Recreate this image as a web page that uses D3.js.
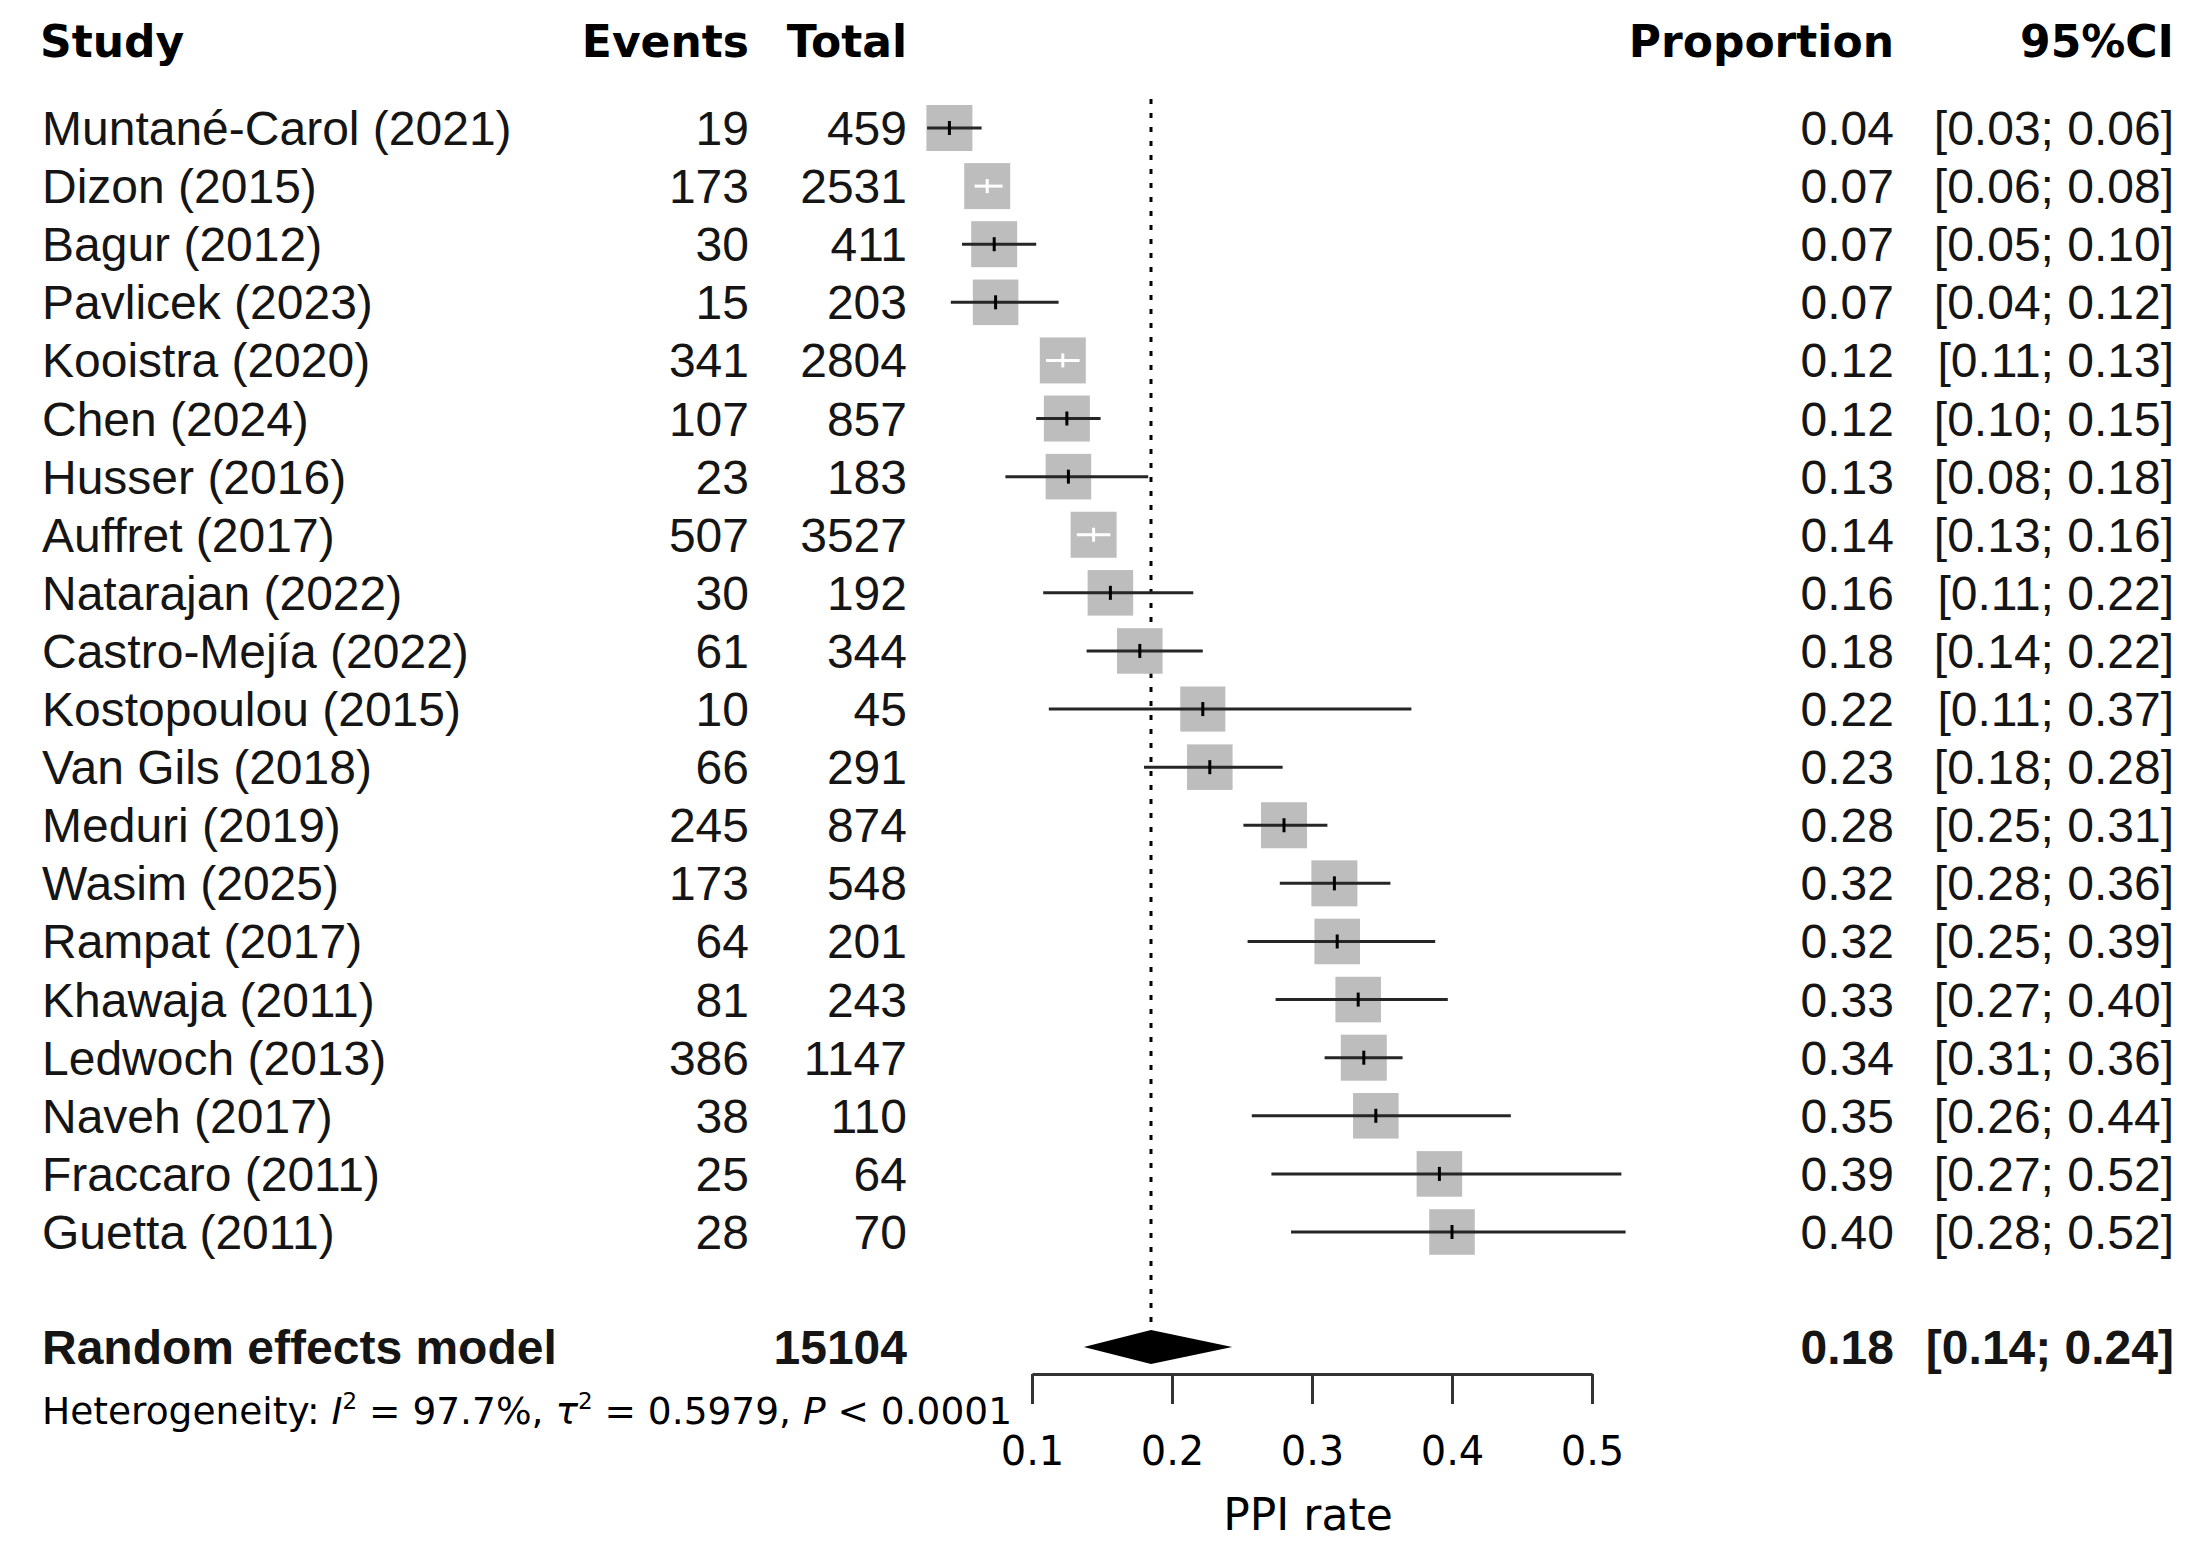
<!DOCTYPE html>
<html>
<head>
<meta charset="utf-8">
<script src="https://cdn.jsdelivr.net/npm/d3@7"></script>
<style>
  body { margin: 0; background: #fff; }
</style>
</head>
<body>
<div id="forest"></div>
<script>
// Study rows (top to bottom)
const studies = ["Muntané-Carol (2021)", "Dizon (2015)", "Bagur (2012)", "Pavlicek (2023)",
    "Kooistra (2020)", "Chen (2024)", "Husser (2016)", "Auffret (2017)", "Natarajan (2022)",
    "Castro-Mejía (2022)", "Kostopoulou (2015)", "Van Gils (2018)", "Meduri (2019)",
    "Wasim (2025)", "Rampat (2017)", "Khawaja (2011)", "Ledwoch (2013)", "Naveh (2017)",
    "Fraccaro (2011)", "Guetta (2011)"];
const events = [19, 173, 30, 15, 341, 107, 23, 507, 30, 61, 10, 66, 245, 173, 64, 81, 386, 38, 25, 28];
const totals = [459, 2531, 411, 203, 2804, 857, 183, 3527, 192, 344, 45, 291, 874, 548, 201, 243, 1147, 110, 64, 70];
const proportions = [0.041, 0.068, 0.073, 0.074, 0.122, 0.1249, 0.126, 0.144, 0.156, 0.177,
    0.222, 0.227, 0.280, 0.316, 0.318, 0.333, 0.337, 0.3456, 0.391, 0.400];
const ciLower = [0.0251, 0.059, 0.050, 0.042, 0.110, 0.103, 0.081, 0.132, 0.108, 0.139,
    0.112, 0.180, 0.251, 0.277, 0.254, 0.274, 0.309, 0.257, 0.271, 0.285];
const ciUpper = [0.064, 0.079, 0.103, 0.119, 0.134, 0.149, 0.183, 0.156, 0.2152, 0.222,
    0.371, 0.279, 0.311, 0.356, 0.388, 0.397, 0.3647, 0.442, 0.521, 0.524];
const weights = [5.1, 5.1, 5.1, 5.0, 5.1, 5.1, 5.0, 5.1, 5.0, 5.0, 4.9, 5.0, 5.1, 5.1, 5.0, 5.0, 5.1, 5.0, 5.0, 5.0];

// Random effects model
const pooledTotal = 15104;
const pooled = 0.185, pooledLower = 0.137, pooledUpper = 0.243;
const heterogeneity = { i2: "97.7%", tau2: "0.5979", p: "0.0001" };

const tickValues = [0.1, 0.2, 0.3, 0.4, 0.5];
const axisTitle = "PPI rate";

const width = 2205, height = 1554;
const svg = d3.select("#forest")
    .append("svg")
    .attr("width", width)
    .attr("height", height)
    .attr("viewBox", "0 0 " + width + " " + height);

const rowFont = "'Liberation Sans', Arial, sans-serif";
const headFont = "'DejaVu Sans', Verdana, sans-serif";

const x = d3.scaleLinear().domain([0.1, 0.5]).range([1032, 1592]);
const y = d3.scaleLinear().domain([0, studies.length - 1]).range([128, 1232]);
const sideMax = 46;
const side = (w) => sideMax * Math.sqrt(w / d3.max(weights));

const data = studies.map((s, i) => ({
    study: s, events: events[i], total: totals[i], p: proportions[i],
    lo: ciLower[i], hi: ciUpper[i], w: weights[i], i: i
}));

// Column headers
const header = svg.append("g")
    .style("font-family", headFont)
    .style("font-weight", "bold")
    .style("font-size", "44px")
    .attr("fill", "#000");
header.append("text").attr("x", 40).attr("y", 57).text("Study");
header.append("text").attr("x", 749).attr("y", 57).attr("text-anchor", "end").text("Events");
header.append("text").attr("x", 907).attr("y", 57).attr("text-anchor", "end").text("Total");
header.append("text").attr("x", 1894).attr("y", 57).attr("text-anchor", "end").text("Proportion");
header.append("text").attr("x", 2174).attr("y", 57).attr("text-anchor", "end").text("95%CI");

// Reference line at the pooled estimate
svg.append("line")
    .attr("x1", x(pooled)).attr("x2", x(pooled))
    .attr("y1", 99).attr("y2", 1330)
    .style("stroke", "#000")
    .style("stroke-width", 3)
    .style("stroke-dasharray", "5,9");

// Study text columns
const rows = svg.append("g")
    .style("font-family", rowFont)
    .style("font-size", "48px")
    .attr("fill", "#151515");

const rowText = rows.selectAll("g")
    .data(data)
    .enter()
    .append("g")
    .attr("transform", (d) => "translate(0," + (y(d.i) + 17) + ")");
rowText.append("text").attr("x", 42).text((d) => d.study);
rowText.append("text").attr("x", 749).attr("text-anchor", "end").text((d) => d.events);
rowText.append("text").attr("x", 907).attr("text-anchor", "end").text((d) => d.total);
rowText.append("text").attr("x", 1894).attr("text-anchor", "end").text((d) => d.p.toFixed(2));
rowText.append("text").attr("x", 2174).attr("text-anchor", "end")
    .text((d) => "[" + d.lo.toFixed(2) + "; " + d.hi.toFixed(2) + "]");

// Squares and confidence intervals
const marks = svg.append("g");
const inside = (d) => x(d.lo) >= x(d.p) - side(d.w) / 2 && x(d.hi) <= x(d.p) + side(d.w) / 2;

marks.selectAll("rect")
    .data(data)
    .enter()
    .append("rect")
    .attr("x", (d) => x(d.p) - side(d.w) / 2)
    .attr("y", (d) => y(d.i) - side(d.w) / 2)
    .attr("width", (d) => side(d.w))
    .attr("height", (d) => side(d.w))
    .style("fill", "#bdbdbd");

marks.selectAll("line.ci")
    .data(data)
    .enter()
    .append("line")
    .attr("class", "ci")
    .attr("x1", (d) => x(d.lo))
    .attr("x2", (d) => x(d.hi))
    .attr("y1", (d) => y(d.i))
    .attr("y2", (d) => y(d.i))
    .style("stroke", (d) => inside(d) ? "#fff" : "#262626")
    .style("stroke-width", 3);

marks.selectAll("line.est")
    .data(data)
    .enter()
    .append("line")
    .attr("class", "est")
    .attr("x1", (d) => x(d.p))
    .attr("x2", (d) => x(d.p))
    .attr("y1", (d) => y(d.i) - 7)
    .attr("y2", (d) => y(d.i) + 7)
    .style("stroke", (d) => inside(d) ? "#fff" : "#000")
    .style("stroke-width", 3);

// Random effects model row
const pooledY = 1347;
const summary = svg.append("g")
    .style("font-family", rowFont)
    .style("font-size", "48px")
    .style("font-weight", "bold")
    .attr("fill", "#151515");
summary.append("text").attr("x", 42).attr("y", pooledY + 17).text("Random effects model");
summary.append("text").attr("x", 907).attr("y", pooledY + 17).attr("text-anchor", "end").text(pooledTotal);
summary.append("text").attr("x", 1894).attr("y", pooledY + 17).attr("text-anchor", "end").text(pooled.toFixed(2));
summary.append("text").attr("x", 2174).attr("y", pooledY + 17).attr("text-anchor", "end")
    .text("[" + pooledLower.toFixed(2) + "; " + pooledUpper.toFixed(2) + "]");

svg.append("path")
    .attr("d", "M" + x(pooledLower) + "," + pooledY +
        "L" + x(pooled) + "," + (pooledY - 17) +
        "L" + x(pooledUpper) + "," + pooledY +
        "L" + x(pooled) + "," + (pooledY + 17) + "Z")
    .style("fill", "#000");

// Heterogeneity line
const het = svg.append("text")
    .attr("x", 42).attr("y", 1424)
    .style("font-family", headFont)
    .style("font-size", "37.5px")
    .attr("fill", "#000");
het.append("tspan").text("Heterogeneity: ");
het.append("tspan").style("font-style", "italic").text("I");
het.append("tspan").attr("dy", -15).style("font-size", "23px").text("2");
het.append("tspan").attr("dy", 15).text(" = " + heterogeneity.i2 + ", ");
het.append("tspan").style("font-style", "italic").text("τ");
het.append("tspan").attr("dy", -15).style("font-size", "23px").text("2");
het.append("tspan").attr("dy", 15).text(" = " + heterogeneity.tau2 + ", ");
het.append("tspan").style("font-style", "italic").text("P");
het.append("tspan").text(" < " + heterogeneity.p);

// x axis
const axisY = 1374;
const axis = svg.append("g")
    .attr("transform", "translate(0," + axisY + ")")
    .call(d3.axisBottom(x).tickValues(tickValues).tickSize(30).tickSizeOuter(0).tickPadding(33)
        .tickFormat(d3.format(".1f")));
axis.select(".domain").style("stroke", "#333").style("stroke-width", 3);
axis.selectAll(".tick line").style("stroke", "#333").style("stroke-width", 3);
axis.selectAll(".tick text")
    .style("font-family", headFont)
    .style("font-size", "40px")
    .attr("fill", "#000");

svg.append("text")
    .attr("x", x(0.3) - 4).attr("y", 1530)
    .attr("text-anchor", "middle")
    .style("font-family", headFont)
    .style("font-size", "44px")
    .attr("fill", "#000")
    .text(axisTitle);
</script>
</body>
</html>
